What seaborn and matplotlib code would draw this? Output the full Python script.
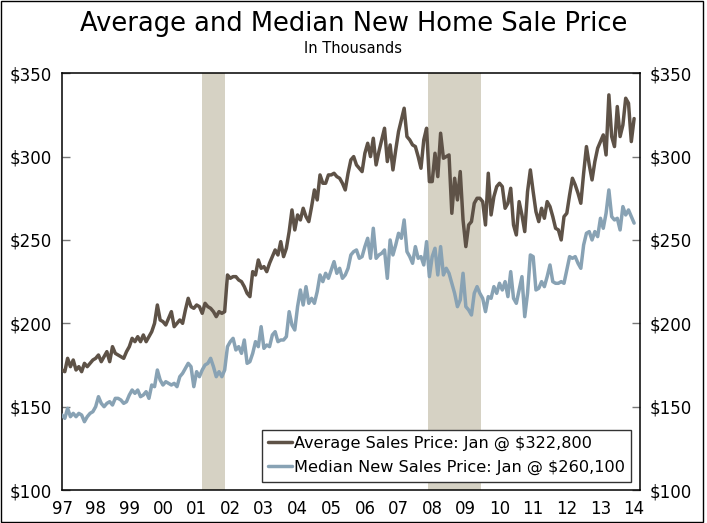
import numpy as np
import pandas as pd
import seaborn as sns
import matplotlib.pyplot as plt
from matplotlib.patches import Rectangle

# monthly values, Jan 1997 .. Jan 2014, $ thousands
avg_price = [
    172, 171, 179, 174, 178, 172, 174, 171, 176, 174, 176, 178,  # 97
    179, 181, 177, 180, 183, 177, 186, 182, 181, 180, 179, 183,  # 98
    186, 191, 189, 192, 189, 193, 189, 192, 195, 200, 211, 202,  # 99
    201, 199, 203, 207, 198, 200, 202, 200, 208, 215, 210, 209,  # 00
    211, 210, 206, 212, 210, 209, 207, 204, 207, 206, 207, 229,  # 01
    227, 228, 228, 226, 225, 222, 218, 216, 231, 229, 238, 233,  # 02
    234, 231, 236, 240, 244, 241, 249, 240, 245, 255, 268, 256,  # 03
    265, 262, 269, 264, 261, 270, 280, 274, 289, 284, 284, 289,  # 04
    289, 290, 288, 287, 284, 280, 290, 298, 300, 295, 293, 291,  # 05
    302, 308, 300, 311, 295, 303, 310, 317, 297, 307, 292, 304,  # 06
    315, 322, 329, 312, 310, 307, 306, 300, 293, 310, 317, 285,  # 07
    285, 302, 288, 314, 299, 300, 301, 266, 287, 274, 291, 262,  # 08
    246, 259, 261, 272, 275, 275, 273, 259, 290, 265, 276, 282,  # 09
    284, 282, 269, 272, 281, 259, 253, 273, 265, 255, 279, 292,  # 10
    279, 267, 261, 269, 263, 273, 270, 264, 257, 256, 250, 264,  # 11
    266, 277, 287, 283, 278, 272, 290, 306, 295, 286, 297, 305,  # 12
    309, 313, 301, 337, 312, 306, 330, 312, 319, 335, 332, 309,  # 13
    322.8,                                                       # 14
]
median_price = [
    145, 143, 149, 144, 146, 144, 146, 145, 141, 144, 146, 147,  # 97
    150, 156, 152, 150, 152, 153, 151, 155, 155, 154, 152, 153,  # 98
    157, 160, 158, 160, 156, 157, 159, 155, 163, 162, 172, 166,  # 99
    163, 165, 164, 163, 164, 162, 168, 170, 173, 176, 174, 162,  # 00
    171, 168, 172, 175, 176, 179, 174, 168, 171, 168, 172, 186,  # 01
    189, 191, 184, 186, 182, 190, 176, 177, 182, 189, 186, 198,  # 02
    185, 187, 186, 193, 195, 189, 190, 190, 192, 207, 199, 196,  # 03
    210, 220, 211, 222, 212, 215, 212, 219, 229, 225, 230, 227,  # 04
    232, 237, 230, 233, 227, 229, 233, 241, 243, 244, 239, 240,  # 05
    246, 251, 239, 257, 239, 241, 242, 244, 227, 250, 241, 247,  # 06
    254, 251, 262, 243, 240, 236, 246, 239, 240, 235, 249, 228,  # 07
    240, 245, 229, 246, 229, 233, 230, 224, 218, 210, 214, 230,  # 08
    210, 208, 205, 218, 222, 218, 215, 207, 216, 215, 222, 218,  # 09
    224, 220, 225, 216, 231, 215, 212, 220, 228, 204, 218, 241,  # 10
    240, 220, 221, 225, 222, 228, 235, 225, 224, 224, 225, 224,  # 11
    232, 240, 239, 240, 236, 233, 247, 254, 255, 250, 255, 252,  # 12
    263, 257, 266, 280, 264, 262, 263, 256, 270, 265, 268, 264,  # 13
    260.1,                                                       # 14
]
year_labels = ['97', '98', '99', '00', '01', '02', '03', '04', '05',
               '06', '07', '08', '09', '10', '11', '12', '13', '14']
recessions = [(2001.17, 2001.84), (2007.88, 2009.45)]
labels = ['Average Sales Price: Jan @ $322,800',
          'Median New Sales Price: Jan @ $260,100']

x = 1997 + np.arange(len(avg_price)) / 12
df = pd.DataFrame({'date': np.concatenate([x, x]),
                   'price': avg_price + median_price,
                   'series': [labels[0]] * len(x) + [labels[1]] * len(x)})

sns.set_style("white")
plt.rcParams['font.family'] = ['DejaVu Sans']
plt.rcParams['text.color'] = 'black'
plt.rcParams['xtick.labelcolor'] = 'black'
plt.rcParams['ytick.labelcolor'] = 'black'

fig = plt.figure(figsize=(7.07, 5.23), dpi=100)
ax = fig.add_axes([0.0877, 0.063, 0.8173, 0.797])

for a, b in recessions:
    ax.axvspan(a, b, color='#D6D2C4', lw=0, zorder=0)

sns.lineplot(data=df, x='date', y='price', hue='series',
             palette={labels[0]: '#5E5247', labels[1]: '#88A2B4'},
             linewidth=2.5, ax=ax, zorder=3)

ax.set_xlim(1997, 2014.17)
ax.set_ylim(100, 350)
ax.set_xticks(1997 + np.arange(len(year_labels)))
ax.set_xticklabels(year_labels, fontsize=12)
ax.set_yticks(range(100, 351, 50))
ax.set_yticklabels(['$%d' % v for v in range(100, 351, 50)], fontsize=12)
ax.set_xlabel('')
ax.set_ylabel('')
ax.tick_params(axis='x', direction='inout', length=10, width=1, color='black', pad=2)
ax.tick_params(axis='y', direction='in', length=6, width=1, color='#777777',
               left=True, right=True, labelleft=True, labelright=True, pad=7)
for s in ax.spines.values():
    s.set_color('black')
    s.set_linewidth(1.1)

leg = ax.legend(loc='lower right', bbox_to_anchor=(0.985, 0.02), fontsize=11.6,
                frameon=True, fancybox=False, framealpha=1, handlelength=1.5,
                handletextpad=0.1, borderaxespad=0, labelspacing=0.55)
leg.get_frame().set_edgecolor('#333333')
leg.get_frame().set_linewidth(1)
for t in leg.get_texts():
    t.set_color('black')

fig.text(0.5, 0.955, 'Average and Median New Home Sale Price', ha='center', va='center', fontsize=18.5)
fig.text(0.5, 0.908, 'In Thousands', ha='center', va='center', fontsize=10.5)
fig.patches.append(Rectangle((0.001, 0.001), 0.994, 0.998, transform=fig.transFigure,
                             fill=False, edgecolor='black', lw=1))

fig.savefig('out.png', dpi=100)
